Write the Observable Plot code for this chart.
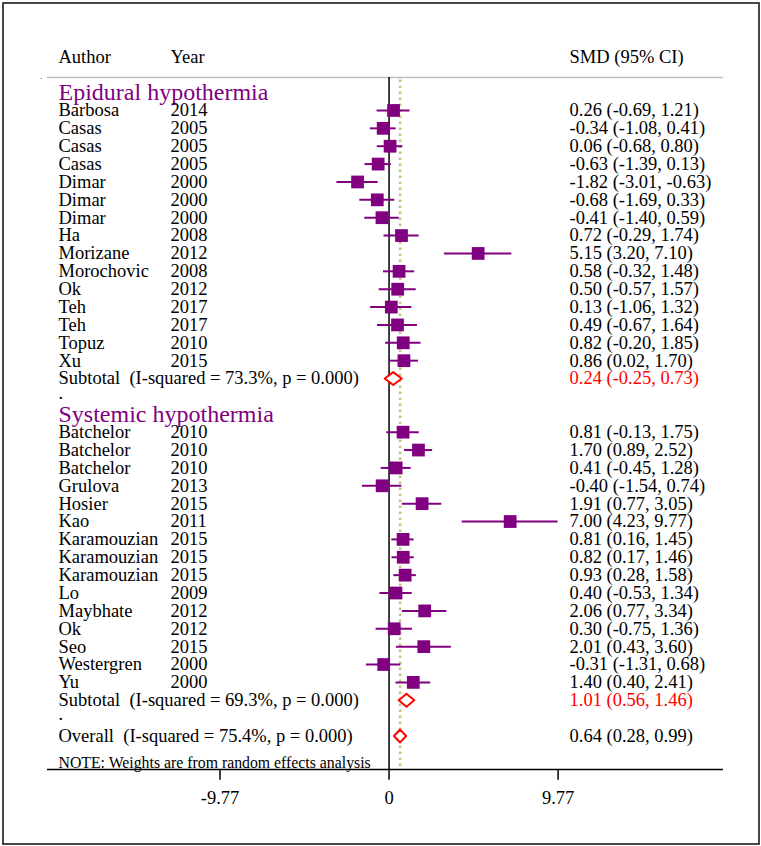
<!DOCTYPE html>
<html><head><meta charset="utf-8">
<script src="https://cdn.jsdelivr.net/npm/d3@7"></script>
<script src="https://cdn.jsdelivr.net/npm/@observablehq/plot@0.6"></script>
<style>body{margin:0;background:#fff} svg{display:block}</style>
</head><body><div id="chart"></div>
<script>
const groupNames = ["Epidural hypothermia", "Systemic hypothermia"];

const authors1 = ["Barbosa","Casas","Casas","Casas","Dimar","Dimar","Dimar","Ha","Morizane","Morochovic","Ok","Teh","Teh","Topuz","Xu"];
const years1   = [2014,2005,2005,2005,2000,2000,2000,2008,2012,2008,2012,2017,2017,2010,2015];
const smd1     = [0.26,-0.34,0.06,-0.63,-1.82,-0.68,-0.41,0.72,5.15,0.58,0.50,0.13,0.49,0.82,0.86];
const lo1      = [-0.69,-1.08,-0.68,-1.39,-3.01,-1.69,-1.40,-0.29,3.20,-0.32,-0.57,-1.06,-0.67,-0.20,0.02];
const hi1      = [1.21,0.41,0.80,0.13,-0.63,0.33,0.59,1.74,7.10,1.48,1.57,1.32,1.64,1.85,1.70];

const authors2 = ["Batchelor","Batchelor","Batchelor","Grulova","Hosier","Kao","Karamouzian","Karamouzian","Karamouzian","Lo","Maybhate","Ok","Seo","Westergren","Yu"];
const years2   = [2010,2010,2010,2013,2015,2011,2015,2015,2015,2009,2012,2012,2015,2000,2000];
const smd2     = [0.81,1.70,0.41,-0.40,1.91,7.00,0.81,0.82,0.93,0.40,2.06,0.30,2.01,-0.31,1.40];
const lo2      = [-0.13,0.89,-0.45,-1.54,0.77,4.23,0.16,0.17,0.28,-0.53,0.77,-0.75,0.43,-1.31,0.40];
const hi2      = [1.75,2.52,1.28,0.74,3.05,9.77,1.45,1.46,1.58,1.34,3.34,1.36,3.60,0.68,2.41];

const subSmd = [0.24, 1.01];
const subLo  = [-0.25, 0.56];
const subHi  = [0.73, 1.46];
const subI2  = ["73.3", "69.3"];
const subP   = ["0.000", "0.000"];

const overallSmd = 0.64, overallLo = 0.28, overallHi = 0.99, overallI2 = "75.4", overallP = "0.000";
const tickValues = [-9.77, 0, 9.77];
const noteText = "NOTE: Weights are from random effects analysis";

// ---- build table ----
const fmt = v => v.toFixed(2);
const ciText = (e, l, h) => `${fmt(e)} (${fmt(l)}, ${fmt(h)})`;
const studies = [], headings = [], summaries = [], dots = [];
const groupsData = [
  {a: authors1, y: years1, e: smd1, l: lo1, h: hi1},
  {a: authors2, y: years2, e: smd2, l: lo2, h: hi2}
];
let row = 0;
groupsData.forEach((g, gi) => {
  headings.push({row, text: groupNames[gi]});
  row++;
  g.a.forEach((a, i) => {
    studies.push({row, author: a, year: String(g.y[i]), smd: g.e[i], lo: g.l[i], hi: g.h[i], label: ciText(g.e[i], g.l[i], g.h[i])});
    row++;
  });
  summaries.push({id: "sub" + gi, row, smd: subSmd[gi], lo: subLo[gi], hi: subHi[gi],
    text: `Subtotal\u00a0 (I-squared = ${subI2[gi]}%, p = ${subP[gi]})`, label: ciText(subSmd[gi], subLo[gi], subHi[gi]), color: "#ff0000"});
  row++;
  dots.push({row});
  row++;
});
summaries.push({id: "overall", row: dots[1].row + 1, smd: overallSmd, lo: overallLo, hi: overallHi,
  text: `Overall\u00a0 (I-squared = ${overallI2}%, p = ${overallP})`, label: ciText(overallSmd, overallLo, overallHi), color: "#000000"});

const lastRow = summaries[2].row;           // 36
const headerRow = -2, lineRow = -0.85, noteRow = lastRow + 1.5, axisRow = lastRow + 1.88;
const tickEndRow = axisRow + 0.6, tickLabelRow = axisRow + 1.57;
const dh = 0.36;
const diamonds = summaries.flatMap(s => [
  {id: s.id, x: s.lo, y: s.row}, {id: s.id, x: s.smd, y: s.row - dh},
  {id: s.id, x: s.hi, y: s.row}, {id: s.id, x: s.smd, y: s.row + dh},
  {id: s.id, x: s.lo, y: s.row}
]);

const xMin = -19.74, xMax = 19.33;
const purple = "#800080";
const font = "Liberation Serif";
const fs = 18.5;
const colAuthor = 55.5, colYear = 167.5, colCI = 566.5;

const chart = Plot.plot({
  width: 761, height: 846,
  marginLeft: 2.5, marginRight: 2.5, marginTop: 2.5, marginBottom: 2.5,
  x: {domain: [xMin, xMax], range: [47, 723], axis: null},
  y: {domain: [0, lastRow], range: [92.1, 735.5], axis: null},
  style: {fontFamily: font, background: "#fff", overflow: "visible"},
  marks: [
    Plot.frame({stroke: "#333", strokeWidth: 1.8}),
    Plot.ruleY([{y: lineRow, a: xMin, b: xMax}], {y: "y", x1: "a", x2: "b", stroke: "#bdbdbd", strokeWidth: 1.5}),
    Plot.ruleX([0], {y1: lineRow, y2: axisRow, stroke: "#000", strokeWidth: 1.5}),
    Plot.ruleX([overallSmd], {y1: lineRow + 0.15, y2: axisRow, stroke: "#c9c27e", strokeWidth: 2.6, strokeDasharray: "2.4,3.6"}),
    Plot.ruleY(studies, {y: "row", x1: "lo", x2: "hi", stroke: purple, strokeWidth: 2}),
    Plot.dot(studies, {x: "smd", y: "row", symbol: "square", r: 7.2, fill: purple, stroke: "none"}),
    Plot.line(diamonds, {x: "x", y: "y", z: "id", stroke: "#ff0000", strokeWidth: 2, fill: "white", curve: "linear"}),
    Plot.ruleY([{y: axisRow, a: xMin, b: xMax}], {y: "y", x1: "a", x2: "b", stroke: "#000", strokeWidth: 1.5}),
    Plot.ruleX(tickValues, {y1: axisRow, y2: tickEndRow, stroke: "#000", strokeWidth: 1.5}),
    Plot.text(tickValues, {x: d => d, y: () => tickLabelRow, text: d => (d === 0 ? "0" : d.toFixed(2)), fontSize: fs, textAnchor: "middle", fill: "#000"}),
    // header
    Plot.text([{t: "Author"}], {frameAnchor: "left", y: () => headerRow, dx: colAuthor, text: "t", fontSize: fs, textAnchor: "start"}),
    Plot.text([{t: "Year"}], {frameAnchor: "left", y: () => headerRow, dx: colYear, text: "t", fontSize: fs, textAnchor: "start"}),
    Plot.text([{t: "SMD (95% CI)"}], {frameAnchor: "left", y: () => headerRow, dx: colCI, text: "t", fontSize: fs, textAnchor: "start"}),
    Plot.text([{t: "."}], {frameAnchor: "left", y: () => lineRow - 0.05, dx: 37, text: "t", fontSize: 9, textAnchor: "start"}),
    // group headings
    Plot.text(headings, {frameAnchor: "left", y: "row", dx: colAuthor, text: "text", fontSize: 24, fill: purple, textAnchor: "start"}),
    // studies
    Plot.text(studies, {frameAnchor: "left", y: "row", dx: colAuthor, text: "author", fontSize: fs, textAnchor: "start"}),
    Plot.text(studies, {frameAnchor: "left", y: "row", dx: colYear, text: "year", fontSize: fs, textAnchor: "start"}),
    Plot.text(studies, {frameAnchor: "left", y: "row", dx: colCI, text: "label", fontSize: fs, textAnchor: "start"}),
    // summaries
    Plot.text(summaries, {frameAnchor: "left", y: "row", dx: colAuthor, text: "text", fontSize: fs, textAnchor: "start"}),
    Plot.text(summaries, {frameAnchor: "left", y: "row", dx: colCI, text: "label", fill: "color", fontSize: fs, textAnchor: "start"}),
    Plot.text(dots, {frameAnchor: "left", y: d => d.row - 0.2, dx: colAuthor, text: () => ".", fontSize: fs, textAnchor: "start"}),
    // note
    Plot.text([{t: noteText}], {frameAnchor: "left", y: () => noteRow, dx: colAuthor, text: "t", fontSize: 15.8, textAnchor: "start"})
  ]
});
document.getElementById("chart").append(chart);
</script>
</body></html>
